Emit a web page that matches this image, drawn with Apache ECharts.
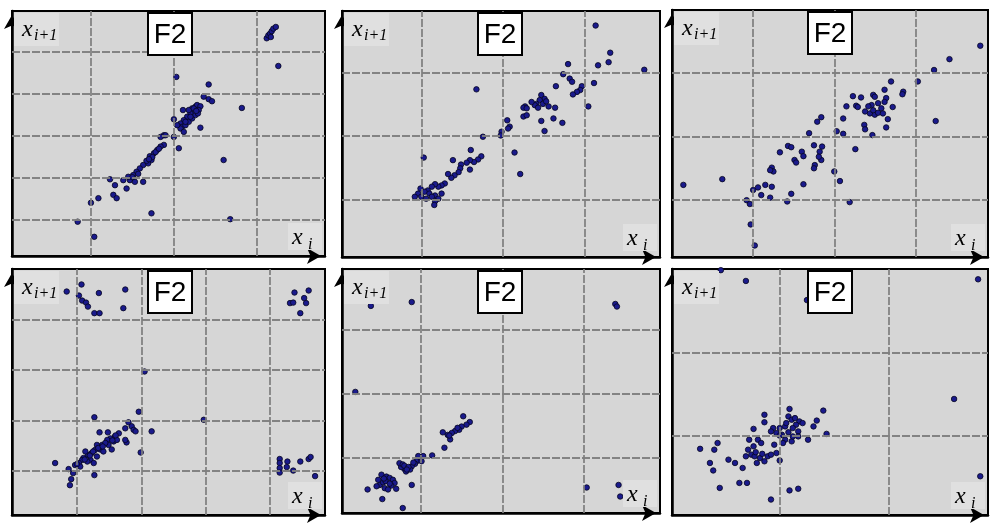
<!DOCTYPE html>
<html><head><meta charset="utf-8">
<script src="https://cdn.jsdelivr.net/npm/echarts@6/dist/echarts.min.js"></script>
<style>html,body{margin:0;padding:0;background:#fff}#c{width:1000px;height:527px}</style>
</head><body><div id="c"></div>
<script>
// Return-map data (x_i, x_{i+1}) for six panels, in grid-line units
const p1 = [[3.12,5.33],[3.14,5.40],[3.16,5.44],[3.18,5.50],[3.20,5.56],[3.23,5.60],[3.17,5.36],
[3.26,4.67],[2.03,4.41],[2.42,4.23],[2.36,3.94],[2.42,3.88],[2.46,3.83],[2.82,3.67],
[2.11,3.62],[2.22,3.66],[2.26,3.70],[2.28,3.74],[2.32,3.71],[2.30,3.62],[2.24,3.58],[2.20,3.54],[2.16,3.46],[2.12,3.38],[2.08,3.30],[2.10,3.22],[2.14,3.26],[2.18,3.34],[2.22,3.42],[2.26,3.50],[2.29,3.54],[2.32,3.20],[2.00,3.40],[2.08,3.18],[2.12,3.10],[2.04,3.26],
[2.18,3.62],[2.24,3.66],[2.20,3.46],[2.14,3.34],[2.27,3.60],
[1.88,3.02],[1.90,3.02],[1.84,2.98],[2.00,2.98],[2.06,2.71],
[1.88,2.79],[1.84,2.75],[1.80,2.67],[1.76,2.59],[1.71,2.52],[1.73,2.43],[1.69,2.35],[1.67,2.41],[1.63,2.31],
[1.78,2.62],[1.74,2.50],[1.82,2.70],[1.70,2.45],
[2.60,2.43],
[1.59,2.23],[1.55,2.15],[1.51,2.07],[1.49,1.99],[1.47,1.95],[1.53,1.91],[1.63,1.91],[1.45,2.03],[1.39,1.95],[1.43,1.75],[1.29,1.83],[1.23,1.97],[1.27,1.60],[1.31,1.52],[1.57,2.10],[1.50,2.02],
[1.09,1.52],[1.00,1.41],[1.73,1.16],[2.68,1.02],[0.84,0.96],[1.04,0.60]];

const p2 = [[3.14,3.75],[3.32,3.32],[3.30,3.17],[3.17,3.12],[2.80,3.14],[3.74,3.05],
[2.74,2.98],[2.82,2.91],[2.85,2.86],[3.12,2.84],[2.65,2.79],[2.97,2.79],[2.95,2.73],[2.91,2.70],[2.86,2.66],[3.05,2.47],
[1.67,2.74],
[2.47,2.65],[2.51,2.59],[2.45,2.57],[2.41,2.51],[2.49,2.51],[2.56,2.47],[2.39,2.49],[2.27,2.47],[2.25,2.45],[2.29,2.44],[2.43,2.45],[2.64,2.45],[2.35,2.54],[2.53,2.55],
[2.25,2.31],[2.29,2.33],[2.47,2.24],[2.62,2.28],[2.73,2.21],[2.51,2.08],
[2.05,2.25],[2.08,2.15],[2.06,2.12],[1.98,2.07],[1.97,2.01],[1.75,1.99],
[2.14,1.74],[2.21,1.40],
[1.60,1.78],[1.73,1.68],[1.69,1.63],[1.64,1.59],[1.59,1.62],[1.55,1.58],[1.48,1.55],[1.47,1.49],[1.45,1.43],[1.38,1.62],[1.40,1.38],[1.36,1.34],[1.32,1.40],[1.59,1.47],
[1.02,1.66],
[1.28,1.25],[1.24,1.22],[1.20,1.20],[1.16,1.24],[1.12,1.20],[1.07,1.14],[1.03,1.12],[0.98,1.17],[0.95,1.09],[0.91,1.04],[0.99,1.04],[1.09,1.09],[1.16,1.06],[1.20,1.01],[1.16,0.97],[1.24,1.09],[1.15,0.91],[1.12,1.04],[1.05,1.01]];

const p3 = [[3.80,3.42],[3.42,3.21],[3.23,3.04],[3.03,2.86],[3.25,2.24],
[2.70,2.86],[2.85,2.70],[2.84,2.66],[2.62,2.73],
[2.23,2.63],[2.33,2.61],[2.48,2.65],[2.50,2.62],[2.64,2.60],[2.62,2.54],[2.54,2.52],[2.46,2.49],[2.42,2.47],[2.38,2.39],[2.44,2.36],[2.50,2.34],[2.54,2.37],[2.58,2.44],[2.72,2.46],[2.27,2.48],[2.15,2.47],[2.29,2.46],[2.66,2.27],[2.64,2.14],[2.37,2.18],[2.38,2.11],[2.47,2.02],[2.11,2.28],[2.48,2.41],[2.60,2.36],
[1.84,2.30],[1.79,2.23],[1.69,2.05],[2.03,2.08],[2.11,2.04],[2.26,1.80],
[1.33,1.75],[1.43,1.85],[1.47,1.83],[1.60,1.76],[1.62,1.69],[1.75,1.86],[1.85,1.84],[1.82,1.76],[1.84,1.63],[1.76,1.55],[1.75,1.50],[1.51,1.63],[1.53,1.59],[1.23,1.51],[1.25,1.45],[1.21,1.47],[1.81,1.68],
[2.00,1.45],[2.07,1.30],[1.62,1.25],[2.19,0.97],
[1.00,1.16],[1.06,1.20],[1.15,1.24],[1.23,1.21],[1.10,1.08],[1.21,1.04],[0.92,1.00],[0.96,0.94],[1.42,0.98],[1.47,1.10],
[0.97,0.62],[1.02,0.29],[0.14,1.24],[0.62,1.33]];

const p4 = [[1.07,4.70],[1.34,4.53],[1.75,4.60],[1.03,4.48],[1.08,4.38],[1.14,4.34],[1.17,4.26],[1.27,4.13],[1.35,4.13],[1.72,4.23],[0.84,4.56],
[4.38,4.54],[4.60,4.58],[4.53,4.43],[4.56,4.33],[4.31,4.33],[4.36,4.34],[4.47,4.13],
[2.05,2.97],[2.97,2.01],[1.27,2.06],[1.96,2.17],[2.16,1.78],[1.99,1.36],
[1.80,1.96],[1.85,1.88],[1.88,1.81],[1.91,1.78],[1.75,1.84],[1.65,1.74],[1.59,1.68],[1.52,1.64],[1.57,1.58],[1.62,1.61],[1.47,1.61],[1.39,1.51],[1.49,1.51],[1.35,1.76],[1.48,1.76],[1.31,1.51],[1.36,1.42],[1.28,1.41],[1.23,1.35],[1.17,1.31],[1.13,1.38],[1.10,1.25],[1.08,1.21],[1.03,1.15],[0.97,1.11],[1.05,1.08],[1.21,1.21],[1.31,1.28],[1.41,1.38],[1.54,1.42],[1.77,1.56],[1.75,1.61],[1.26,1.15],[0.66,1.15],[0.87,1.03],[0.94,0.95],[0.91,0.83],[0.89,0.71],[1.27,0.91],[1.16,1.18],
[1.20,1.30],[1.33,1.45],[1.44,1.55],[1.55,1.60],[1.12,1.22],[1.00,1.13],[1.25,1.38],[1.40,1.48],[1.60,1.70],
[4.15,1.23],[4.15,1.15],[4.15,1.05],[4.15,0.96],[4.27,1.18],[4.26,1.07],[4.36,1.00],[4.47,1.18],[4.60,1.23],[4.63,1.27],[4.70,0.89]];

const p5 = [[0.39,3.37],[0.89,3.43],[0.20,2.03],[3.38,3.40],[3.40,3.36],
[1.52,1.65],[1.60,1.56],[1.56,1.52],[1.50,1.49],[1.47,1.44],[1.42,1.42],[1.38,1.39],[1.33,1.36],[1.27,1.40],[1.36,1.29],[1.29,1.16],[1.45,1.47],[1.35,1.35],
[1.14,1.04],
[1.03,1.03],[0.99,0.98],[0.95,0.95],[0.93,0.91],[0.89,0.87],[0.84,0.84],[0.80,0.83],[0.76,0.86],[0.74,0.92],[0.78,0.90],[0.82,0.79],[0.87,0.82],[0.97,1.03],[1.01,0.95],[0.80,0.88],[0.85,0.86],[0.83,0.82],[0.91,0.93],
[0.52,0.74],[0.58,0.71],[0.62,0.69],[0.66,0.66],[0.68,0.61],[0.64,0.57],[0.56,0.53],[0.50,0.58],[0.46,0.56],[0.54,0.62],[0.60,0.51],[0.70,0.52],[0.48,0.66],[0.57,0.64],[0.62,0.60],[0.55,0.68],
[0.35,0.51],[0.89,0.58],[0.53,0.36],[0.78,0.22],[3.03,0.54],[3.42,0.58],[3.44,0.40]];

const p6 = [[0.69,2.86],[0.46,2.99],[1.25,2.63],[2.82,2.88],[2.60,1.44],[2.84,0.51],
[1.09,1.32],[1.40,1.30],[0.86,1.25],[1.34,1.18],[1.18,1.17],[1.31,1.11],[1.21,1.15],[1.08,1.23],[1.11,1.19],[1.15,1.13],[1.12,1.09],[1.17,1.05],[1.05,1.11],[1.00,1.09],[0.94,1.09],[0.92,1.05],[0.97,1.03],[1.02,1.01],[1.05,0.95],[1.03,0.91],[1.11,0.93],[1.17,0.99],[1.12,0.99],[1.26,0.95],[1.43,1.02],[0.76,1.08],[0.86,1.16],[0.72,0.95],[0.80,0.95],[0.83,0.91],[0.95,0.89],[0.76,0.87],[0.71,0.83],[0.69,0.75],[0.74,0.77],[0.77,0.75],[0.82,0.73],[0.86,0.69],[0.89,0.75],[0.92,0.77],[0.79,0.67],[0.97,0.79],[1.00,0.70],[0.59,0.67],[0.53,0.71],[0.43,0.91],[0.40,0.83],[0.27,0.84],[0.36,0.67],[0.39,0.58],[0.66,0.61],[0.63,0.43],[0.70,0.43],[0.45,0.37],[0.92,0.23],[1.09,0.34],[1.17,0.36],
[1.06,1.15],[1.14,1.21],[1.00,1.00],[0.78,0.80],[0.84,0.78],[1.08,1.04]];

const panelData = [p1, p2, p3, p4, p5, p6];
const xRanges = [[0.048,3.823],[0.012,3.934],[0,3.895],[-0.01,4.854],[0.037,3.927],[0.012,2.911]];
const yRanges = [[0.143,5.98],[0.087,3.98],[0.11,3.98],[0.117,5.008],[0.143,3.945],[0.044,3.004]];
const xGridLines = [[1,2,3],[1,2,3],[1,2,3],[1,2,3,4],[1,2,3],[1,2]];
const yGridLines = [[1,2,3,4,5],[1,2,3],[1,2,3],[1,2,3,4],[1,2,3],[1,2]];
const panelTitles = ['F2','F2','F2','F2','F2','F2'];
const yLabel = ['x', 'i+1'];
const xLabel = ['x', 'i'];

// layout (pixels)
const boxes = [[12,11,313,245],[342,11,318,246],[672,10,316,247],[12,269,313,246],[342,269,318,244],[672,269,316,246]];

const grids = [], xAxes = [], yAxes = [], series = [], graphics = [];
const axisLineCommon = {show:true, onZero:false, symbol:['none','arrow'], symbolSize:[12,14], symbolOffset:[0,-4],
  lineStyle:{color:'#000', width:2.5}};
const serif = '"Liberation Serif","DejaVu Serif",serif';

boxes.forEach((b, i) => {
  const [L, T, W, H] = b; const R = L + W, B = T + H;
  grids.push({left:L, top:T, width:W, height:H, show:true, backgroundColor:'#d6d6d6', borderColor:'#000', borderWidth:2});
  xAxes.push({gridIndex:i, type:'value', min:xRanges[i][0], max:xRanges[i][1], position:'bottom',
    axisLine:axisLineCommon, axisTick:{show:false}, axisLabel:{show:false}, splitLine:{show:false}});
  yAxes.push({gridIndex:i, type:'value', min:yRanges[i][0], max:yRanges[i][1], position:'left',
    axisLine:axisLineCommon, axisTick:{show:false}, axisLabel:{show:false}, splitLine:{show:false}});
  series.push({type:'scatter', xAxisIndex:i, yAxisIndex:i, data:[], z:1, silent:true,
    markLine:{silent:true, symbol:['none','none'], animation:false, label:{show:false},
      lineStyle:{color:'#7e7e7e', width:1.8, type:[8,2], opacity:0.95},
      emphasis:{disabled:true},
      data: xGridLines[i].map(v => ({xAxis:v})).concat(yGridLines[i].map(v => ({yAxis:v})))}});
  series.push({type:'scatter', xAxisIndex:i, yAxisIndex:i, data:panelData[i], z:3, symbolSize:5.5, silent:true,
    itemStyle:{color:'#1a1a8c', borderColor:'#05051e', borderWidth:0.8, opacity:1}});
  // label patches
  graphics.push({type:'rect', z:90, shape:{x:L+2, y:T+2, width:45, height:33}, style:{fill:'#e0e0e0'}});
  graphics.push({type:'rect', z:90, shape:{x:R-37, y:B-33, width:34, height:27}, style:{fill:'#e0e0e0'}});
  graphics.push({type:'text', z:100, style:{text:yLabel[0], x:L+10, y:T+19, font:'italic 24px ' + serif, fill:'#000', align:'left', verticalAlign:'middle'}});
  graphics.push({type:'text', z:100, style:{text:yLabel[1], x:L+22, y:T+25, font:'italic 16px ' + serif, fill:'#000', align:'left', verticalAlign:'middle'}});
  graphics.push({type:'text', z:100, style:{text:xLabel[0], x:R-33, y:B-18, font:'italic 24px ' + serif, fill:'#000', align:'left', verticalAlign:'middle'}});
  graphics.push({type:'text', z:100, style:{text:xLabel[1], x:R-17, y:B-11, font:'italic 16px ' + serif, fill:'#000', align:'left', verticalAlign:'middle'}});
  // F2 box
  graphics.push({type:'rect', z:100, shape:{x:L+136, y:T+2, width:44, height:42}, style:{fill:'#fff', stroke:'#000', lineWidth:2}});
  graphics.push({type:'text', z:101, style:{text:panelTitles[i], x:L+158, y:T+24, font:'28px "Liberation Sans", Arial, sans-serif', fill:'#000', align:'center', verticalAlign:'middle'}});
});

const chart = echarts.init(document.getElementById('c'), null, {renderer:'canvas'});
chart.setOption({animation:false, backgroundColor:'#fff', grid:grids, xAxis:xAxes, yAxis:yAxes, series:series, graphic:graphics});
</script></body></html>
